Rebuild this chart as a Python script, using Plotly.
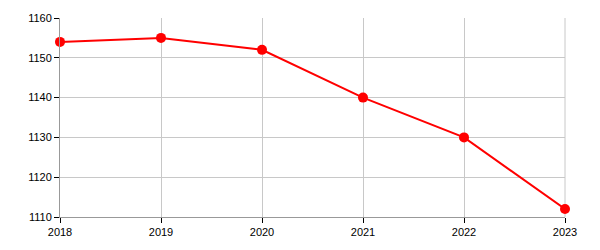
import plotly.graph_objects as go

years = [2018, 2019, 2020, 2021, 2022, 2023]
values = [1154, 1155, 1152, 1140, 1130, 1112]
y_ticks = [1110, 1120, 1130, 1140, 1150, 1160]

fig = go.Figure()
fig.add_trace(go.Scatter(
    x=years, y=values, mode="lines+markers",
    line=dict(color="#ff0000", width=2),
    marker=dict(color="#ff0000", size=10),
    cliponaxis=False,
    showlegend=False,
))

fig.update_layout(
    width=600, height=250,
    margin=dict(l=60, r=35, t=15, b=33),
    paper_bgcolor="white", plot_bgcolor="white",
    font=dict(family="Liberation Sans, Arial, sans-serif", size=11, color="black"),
)
fig.update_xaxes(
    range=[2018, 2023], tickvals=years, ticktext=[str(y) for y in years],
    showgrid=True, gridcolor="#c8c8c8", gridwidth=1,
    showline=True, linecolor="#999999", linewidth=1, mirror=False,
    ticks="outside", ticklen=5, tickcolor="black", zeroline=False,
)
fig.update_yaxes(
    range=[1110, 1160], tickvals=y_ticks,
    showgrid=True, gridcolor="#c8c8c8", gridwidth=1,
    showline=True, linecolor="#999999", linewidth=1,
    ticks="outside", ticklen=5, tickcolor="black", zeroline=False,
)
# right border line
fig.add_shape(type="line", xref="paper", yref="paper", x0=1, x1=1, y0=0, y1=1,
              line=dict(color="#c8c8c8", width=1), layer="below")

fig.write_html("out.html")
